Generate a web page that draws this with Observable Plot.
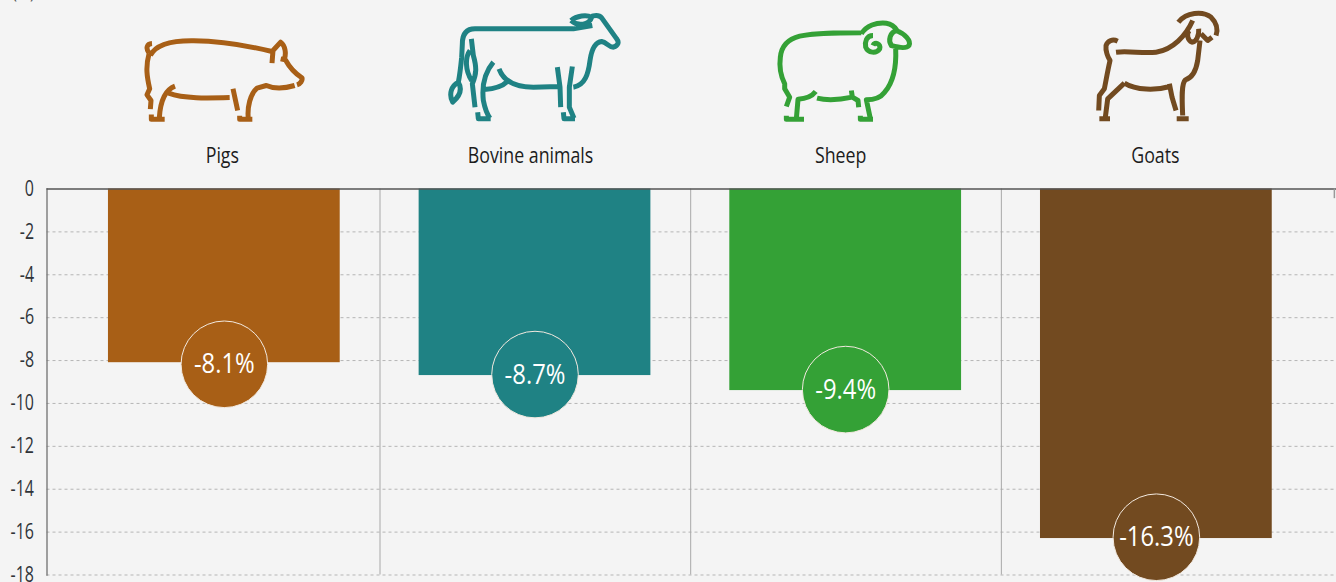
<!DOCTYPE html>
<html><head><meta charset="utf-8">
<style>html,body{margin:0;padding:0;background:#f4f4f4;overflow:hidden}svg{display:block}</style>
<script src="https://cdn.jsdelivr.net/npm/d3@7"></script>
<script src="https://cdn.jsdelivr.net/npm/@observablehq/plot@0.6"></script>
</head><body>
<script>
const species = ["Pigs", "Bovine animals", "Sheep", "Goats"];
const values = [-8.1, -8.7, -9.4, -16.3];
const colors = ["#a85f16", "#1f8284", "#34a136", "#724a20"];
const labels = ["-8.1%", "-8.7%", "-9.4%", "-16.3%"];
const yTicks = [0, -2, -4, -6, -8, -10, -12, -14, -16, -18];
const pigIcon = "M155 129C140 130 135 142 146 158M150 165C165 135 210 120 280 121C360 122 440 135 515 153M146 160C135 200 140 230 148 265L140 283L152 300L150 326M515 188L518 150L541 125C555 135 558 160 552 175M541 175L555 178C570 205 585 220 605 232C607 240 600 250 590 253M583 255C550 265 520 265 498 255L470 263C450 280 440 320 444 355M418 346L418 356L456 356M398 265L412 330M224 257C195 268 180 300 177 352M153 342L153 356L193 356M205 278C250 295 320 293 388 291";
const cowIcon = "M487 75L430 85L135 85C105 85 97 105 97 130L95 170C92 200 90 220 85 245C65 255 55 280 68 305C85 290 100 270 85 245M124 115L130 165C140 200 140 220 127 250L135 320M120 150C105 170 105 210 125 240M190 185C165 215 155 255 160 300C165 325 170 340 180 353M143 335L145 355L182 355M207 205C220 240 250 260 310 260L385 258M163 267C190 265 215 260 232 243M382 200L390 260L392 320M427 198L418 260L418 320L432 353M400 335L402 355L435 355M430 260C465 255 475 220 480 180C485 145 495 125 515 123C530 125 535 140 550 140C565 135 568 125 560 115L515 52C505 40 495 45 485 47M423 60C440 45 470 42 485 50C478 72 445 80 423 60";
const sheepIcon = "M305 97C230 97 170 97 120 107C80 117 65 140 62 170C58 200 65 230 75 250L75 265L90 290L80 318M305 100C320 75 350 65 380 68C395 70 405 78 412 90C390 95 385 120 395 135C420 142 440 145 448 135C455 120 435 100 410 90M408 145C410 190 405 240 375 275C360 295 335 298 320 298L332 355M302 346L302 356L340 356M275 270L278 290L295 300L297 320M172 293C200 300 240 298 278 290M168 273C155 290 135 295 115 296L110 355M80 346L80 356L133 356M340 105C320 105 315 125 318 140C325 158 350 160 360 145C365 130 345 122 340 135";
const goatIcon = "M115 122C100 115 85 120 80 135C78 150 85 170 92 180C85 210 80 240 75 265L60 285L58 330M110 155C150 150 190 160 230 155C280 148 320 105 340 60M297 65C320 35 370 30 395 50C415 70 415 90 410 105M358 85C360 105 350 125 338 125C325 120 320 100 330 90M365 100L385 120L398 110M362 120L355 180C350 210 340 232 318 238C305 250 308 300 310 345M292 355L328 355M270 250L278 290L290 330M135 248C170 270 230 270 272 258M135 248L85 295L78 350M60 355L92 355";
const iconPaths = [pigIcon, cowIcon, sheepIcon, goatIcon];
const iconOrigins = [72, 15, -42, -69];
const font = "'Open Sans',sans-serif";

const iconSrc = (path, i) => "data:image/svg+xml," + encodeURIComponent(
  `<svg xmlns="http://www.w3.org/2000/svg" width="600" height="400" viewBox="${iconOrigins[i]} 0 600 400"><path d="${path}" fill="none" stroke="${colors[i]}" stroke-width="15" stroke-linejoin="round" stroke-linecap="butt"/></svg>`);
const rows = species.map((s, i) => ({species: s, value: values[i], color: colors[i], label: labels[i], icon: iconSrc(iconPaths[i], i)}));

const chart = Plot.plot({
  width: 1336, height: 582,
  marginTop: 188.5, marginBottom: 7.5, marginLeft: 46.5, marginRight: 0,
  style: {background: "#f4f4f4", fontFamily: font},
  x: {domain: species, range: [68.5, 1311.2], round: false, paddingInner: 79 / 311, paddingOuter: 39.5 / 311, label: null, axis: null},
  y: {domain: [-18, 0], label: null, axis: null},
  marks: [
    Plot.ruleY(yTicks.filter(t => t !== 0), {stroke: "#b5b5b5", strokeWidth: 1, strokeDasharray: "3 3"}),
    Plot.ruleX(rows.slice(1), {x: "species", dx: -155, stroke: "#a8a8a8", strokeWidth: 1}),
    Plot.frame({anchor: "left", stroke: "#707070", strokeWidth: 1.3}),
    Plot.barY(rows, {x: "species", y: "value", fill: "color"}),
    Plot.ruleY([0], {stroke: "#555", strokeWidth: 1.3}),
    Plot.ruleX([species[3]], {x: d => d, y1: 0, y2: -0.45, dx: 178, stroke: "#999", strokeWidth: 1.5}),
    Plot.text(yTicks, {frameAnchor: "left", y: d => d, textAnchor: "end", dx: -13, text: d => String(d), fill: "#2f3338", fontSize: 21, className: "tick"}),
    ...[1.6, -1, -1, -1.3].flatMap((nudge, i) => [
      Plot.dot([rows[i]], {x: "species", y: "value", dy: nudge, r: 43.3, fill: "color", stroke: "#f2e9df", strokeWidth: 1}),
      Plot.text([rows[i]], {x: "species", y: "value", dy: nudge, text: "label", fill: "white", fontSize: 28, className: "pct"})
    ]),
    Plot.image(rows, {x: "species", frameAnchor: "top", dy: -121.83, width: 200, height: 133.33, src: "icon"}),
    ...[-2, -4.5, -5, -1].map((nudge, i) => Plot.text([rows[i]], {x: "species", frameAnchor: "top", dy: -42, dx: nudge, text: "species", fill: "#1c1c1c", fontSize: 22.5, className: "name"})),
    Plot.text(["(%)"], {frameAnchor: "top-left", lineAnchor: "bottom", textAnchor: "middle", dx: -23.5, dy: -191, fill: "#555", fontSize: 20, className: "unit"})
  ]
});
document.body.appendChild(chart);
const squeeze = {tick: 0.76, pct: 0.85, name: 0.79, unit: 0.8};
chart.querySelectorAll("text").forEach(t => {
  const g = t.closest("g[class]");
  const key = Object.keys(squeeze).find(k => g && g.classList.contains(k));
  if (!key) return;
  t.setAttribute("textLength", t.getComputedTextLength() * squeeze[key]);
  t.setAttribute("lengthAdjust", "spacingAndGlyphs");
});
</script>
</body></html>
